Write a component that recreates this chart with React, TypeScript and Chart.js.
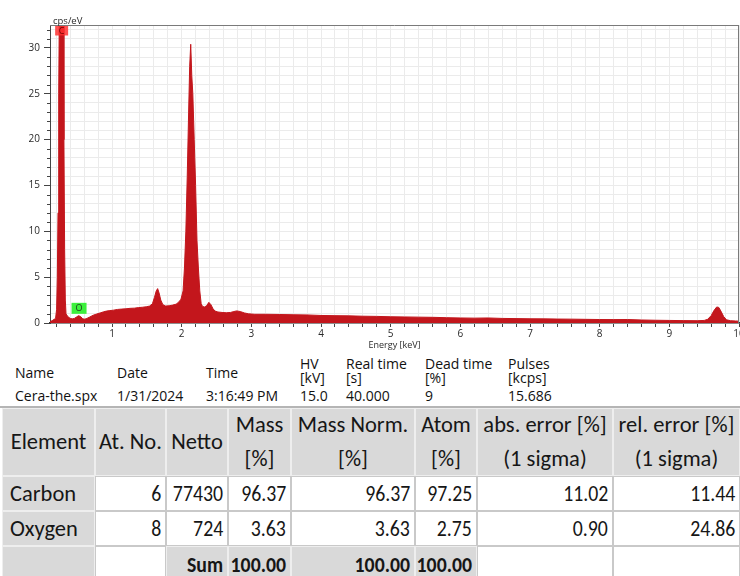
import React, { useEffect, useRef } from 'react';
import { Chart, registerables } from 'chart.js';
Chart.register(...registerables);

// ---------- spectrum data ----------
const energyKeV = [
  0.11, 0.14, 0.17, 0.19, 0.205, 0.215, 0.225, 0.235, 0.245, 0.26,
  0.275, 0.29, 0.30, 0.31, 0.32, 0.33, 0.34, 0.36, 0.38, 0.40,
  0.43, 0.46, 0.49, 0.52, 0.55, 0.58, 0.61, 0.64, 0.68, 0.73,
  0.78, 0.83, 0.88, 0.92, 0.97, 1.02, 1.08, 1.14, 1.20, 1.26,
  1.32, 1.38, 1.44, 1.50, 1.54, 1.58, 1.61, 1.635, 1.655, 1.675,
  1.70, 1.73, 1.77, 1.82, 1.87, 1.92, 1.96, 1.99, 2.02, 2.04,
  2.06, 2.08, 2.10, 2.115, 2.13, 2.145, 2.16, 2.18, 2.20, 2.22,
  2.24, 2.26, 2.28, 2.30, 2.33, 2.36, 2.39, 2.42, 2.45, 2.48,
  2.52, 2.58, 2.64, 2.70, 2.75, 2.79, 2.84, 2.90, 2.96, 3.05,
  3.2, 3.4, 3.6, 3.8, 4.0, 4.2, 4.4, 4.6, 4.8, 5.0,
  5.2, 5.4, 5.6, 5.8, 6.0, 6.2, 6.4, 6.6, 6.8, 7.0,
  7.2, 7.4, 7.6, 7.8, 8.0, 8.2, 8.4, 8.6, 8.8, 9.0,
  9.2, 9.4, 9.5, 9.55, 9.6, 9.64, 9.68, 9.71, 9.74, 9.78,
  9.82, 9.88, 9.95, 10.0,
];
const cpsPerEv = [
  0.15, 0.25, 0.4, 0.5, 1.5, 5, 12, 25, 35, 45,
  48, 42, 33, 20, 8, 2.5, 1.0, 0.75, 0.62, 0.5,
  0.45, 0.5, 0.65, 0.8, 0.7, 0.45, 0.42, 0.5, 0.65, 0.85,
  0.98, 1.1, 1.22, 1.3, 1.35, 1.4, 1.48, 1.52, 1.55, 1.6,
  1.62, 1.68, 1.72, 1.78, 1.85, 2.1, 2.8, 3.5, 3.75, 3.3,
  2.5, 2.0, 1.85, 1.88, 1.95, 2.05, 2.3, 2.6, 3.5, 6,
  10, 16, 23, 28, 30.4, 27, 25, 20, 15, 9,
  6, 3.5, 2.1, 1.8, 1.75, 1.9, 2.25, 2.0, 1.55, 1.3,
  1.2, 1.15, 1.12, 1.15, 1.25, 1.32, 1.25, 1.1, 1.0, 0.95,
  0.95, 0.93, 0.9, 0.88, 0.82, 0.8, 0.78, 0.74, 0.72, 0.68,
  0.66, 0.64, 0.62, 0.58, 0.55, 0.53, 0.55, 0.5, 0.48, 0.46,
  0.45, 0.43, 0.42, 0.4, 0.38, 0.37, 0.38, 0.33, 0.3, 0.28,
  0.26, 0.25, 0.28, 0.4, 0.8, 1.35, 1.75, 1.7, 1.3, 0.7,
  0.35, 0.25, 0.22, 0.2,
];

const xMin = 0.11;
const xMax = 10;
const yMax = 32.5;
const xLabelValues = [1, 2, 3, 4, 5, 6, 7, 8, 9, 10];
const yLabelValues = [0, 5, 10, 15, 20, 25, 30];
const xTitle = 'Energy [keV]';
const yTitle = 'cps/eV';

const markerLabels = ['C', 'O'];
const markerEnergies = [0.277, 0.527];
const markerColors = ['rgba(255,45,45,0.82)', '#3cf03c'];

// ---------- metadata ----------
const metaHeaders = [['Name'], ['Date'], ['Time'], ['HV', '[kV]'], ['Real time', '[s]'], ['Dead time', '[%]'], ['Pulses', '[kcps]']];
const metaValues = ['Cera-the.spx', '1/31/2024', '3:16:49 PM', '15.0', '40.000', '9', '15.686'];

// ---------- result table ----------
const tableHeaders = [['Element'], ['At. No.'], ['Netto'], ['Mass', '[%]'], ['Mass Norm.', '[%]'], ['Atom', '[%]'], ['abs. error [%]', '(1 sigma)'], ['rel. error [%]', '(1 sigma)']];
const elements = ['Carbon', 'Oxygen'];
const atomicNumbers = ['6', '8'];
const nettoCounts = ['77430', '724'];
const massPct = ['96.37', '3.63'];
const massNormPct = ['96.37', '3.63'];
const atomPct = ['97.25', '2.75'];
const absErrPct = ['11.02', '0.90'];
const relErrPct = ['11.44', '24.86'];
const sumRow = ['', '', 'Sum', '100.00', '100.00', '100.00', '', ''];

// ---------- layout (positions only) ----------
const RED = '#c3161c';
const metaX = [15, 117, 206, 300, 346, 425, 508];
const colEdges = [2, 95, 166, 228, 291, 415, 477, 613, 740];
const rowEdges = [408, 476, 511, 546, 582];
const GRAY = '#d9d9d9';

export default function App() {
  const canvasRef = useRef<HTMLCanvasElement | null>(null);

  useEffect(() => {
    const canvas = canvasRef.current;
    if (!canvas) return;
    const xTicks: number[] = [];
    for (let i = 1; i <= 50; i++) xTicks.push(Math.round(i * 2) / 10);
    const yTicks: number[] = [];
    for (let i = 0; i <= 32; i++) yTicks.push(i);

    const extras = {
      id: 'extras',
      afterDatasetsDraw(chart: any) {
        const { ctx, chartArea, scales } = chart;
        const xs = scales.x;
        const ys = scales.y;
        ctx.save();
        markerLabels.forEach((lab, i) => {
          const cx = xs.getPixelForValue(markerEnergies[i]);
          let w = 13, h = 9.5, top;
          if (i === 0) {
            top = chartArea.top + 1;
          } else {
            w = 15; h = 11;
            top = ys.getPixelForValue(1.6) - h / 2;
          }
          ctx.fillStyle = markerColors[i];
          ctx.fillRect(cx - w / 2, top, w, h);
          ctx.fillStyle = i === 0 ? '#6a0000' : '#1d3b1d';
          ctx.font = '9px "Open Sans"';
          ctx.textAlign = 'center';
          ctx.textBaseline = 'middle';
          ctx.fillText(lab, cx, top + h / 2 + 0.5);
        });
        ctx.restore();
      },
      afterDraw(chart: any) {
        const { ctx, chartArea, scales } = chart;
        const ys = scales.y;
        ctx.save();
        ctx.strokeStyle = '#7a7a7a';
        ctx.lineWidth = 1;
        ctx.beginPath();
        ctx.moveTo(chartArea.left, chartArea.top + 0.5);
        ctx.lineTo(chartArea.right, chartArea.top + 0.5);
        ctx.moveTo(chartArea.right - 0.5, chartArea.top);
        ctx.lineTo(chartArea.right - 0.5, chartArea.bottom);
        ctx.stroke();
        ctx.strokeStyle = '#444';
        ctx.beginPath();
        yTicks.forEach((v) => {
          if (v % 5 === 0) return;
          const py = Math.round(ys.getPixelForValue(v)) + 0.5;
          ctx.moveTo(chartArea.left - 3, py);
          ctx.lineTo(chartArea.left, py);
        });
        ctx.stroke();
        ctx.restore();
      },
    };

    const chart = new Chart(canvas, {
      type: 'line',
      data: {
        datasets: [
          {
            data: energyKeV.map((e, i) => ({ x: e, y: cpsPerEv[i] })),
            fill: 'origin',
            backgroundColor: RED,
            borderColor: RED,
            borderWidth: 1,
            pointRadius: 0,
            tension: 0,
          },
        ],
      },
      options: {
        responsive: false,
        maintainAspectRatio: false,
        animation: false,
        layout: { padding: { top: 25, left: 0, right: 1, bottom: 0 } },
        plugins: { legend: { display: false }, tooltip: { enabled: false } },
        scales: {
          x: {
            type: 'linear',
            min: xMin,
            max: xMax,
            afterBuildTicks: (s: any) => {
              s.ticks = xTicks.map((v) => ({ value: v }));
            },
            afterFit: (s: any) => {
              s.height = 29;
              s.paddingLeft = 0;
              s.paddingRight = 0;
            },
            ticks: {
              autoSkip: false,
              maxRotation: 0,
              minRotation: 0,
              padding: 1,
              color: '#2a2a2a',
              font: { family: 'Open Sans', size: 10 },
              callback: (v: any) => {
                const r = Math.round(Number(v) * 100) / 100;
                return xLabelValues.includes(r) ? String(r) : '';
              },
            },
            grid: { color: '#ebebeb', lineWidth: 1, tickLength: 4, tickColor: '#444' },
            border: { color: '#333', width: 1.5 },
            title: {
              display: true,
              text: xTitle,
              color: '#2a2a2a',
              font: { family: 'Open Sans', size: 9 },
              padding: { top: 0, bottom: 1.5 },
            },
          },
          y: {
            min: 0,
            max: yMax,
            afterBuildTicks: (s: any) => {
              s.ticks = yTicks.map((v) => ({ value: v }));
            },
            afterFit: (s: any) => {
              s.width = 50;
              s.paddingTop = 0;
              s.paddingBottom = 0;
            },
            ticks: {
              autoSkip: false,
              padding: 4,
              color: '#2a2a2a',
              font: { family: 'Open Sans', size: 10 },
              callback: (v: any) => (yLabelValues.includes(Number(v)) ? String(v) : ''),
            },
            grid: {
              color: '#ebebeb',
              lineWidth: 1,
              tickLength: 6,
              tickColor: (c: any) => (c.tick && c.tick.value % 5 === 0 ? '#444' : 'rgba(0,0,0,0)'),
            },
            border: { color: '#444', width: 1 },
          },
        },
      },
      plugins: [extras],
    } as any);
    return () => chart.destroy();
  }, []);

  const metaFont: React.CSSProperties = { fontFamily: '"Open Sans", sans-serif', fontSize: 14, color: '#111', position: 'absolute', lineHeight: '14px', whiteSpace: 'nowrap' };
  const tableFont = 'Carlito, Calibri, Lato, sans-serif';

  const bodyRows = elements.map((el, i) => [el, atomicNumbers[i], nettoCounts[i], massPct[i], massNormPct[i], atomPct[i], absErrPct[i], relErrPct[i]]);

  const cells: React.ReactNode[] = [];
  tableHeaders.forEach((lines, c) => {
    const x0 = colEdges[c], x1 = colEdges[c + 1];
    cells.push(
      <div key={'h' + c} style={{ position: 'absolute', left: x0, top: rowEdges[0], width: x1 - x0, height: rowEdges[1] - rowEdges[0], boxSizing: 'border-box', border: '1px solid #eeeeee', background: GRAY, display: 'flex', flexDirection: 'column', justifyContent: 'center', alignItems: 'center', fontFamily: tableFont, fontSize: 22.5, lineHeight: '34px', color: '#161616', whiteSpace: 'nowrap' }}>
        {lines.map((t, k) => (<div key={k}>{t}</div>))}
      </div>
    );
  });
  const allRows = [...bodyRows, sumRow];
  allRows.forEach((row, r) => {
    const y0 = rowEdges[r + 1], y1 = rowEdges[r + 2];
    const isSum = r === allRows.length - 1;
    row.forEach((txt, c) => {
      const x0 = colEdges[c], x1 = colEdges[c + 1];
      const gray = c === 0 || (isSum && c >= 2 && c <= 5);
      cells.push(
        <div key={'r' + r + 'c' + c} style={{ position: 'absolute', left: x0, top: y0, width: x1 - x0, height: y1 - y0, boxSizing: 'border-box', border: gray ? '1px solid #eeeeee' : '1px solid #c9c9c9', background: gray ? GRAY : '#ffffff', display: 'flex', alignItems: 'center', justifyContent: c === 0 ? 'flex-start' : 'flex-end', padding: c === 0 ? '0 0 0 7px' : '0 4px 0 0', fontFamily: tableFont, fontSize: 22.5, color: '#161616', fontWeight: isSum ? 700 : 400, whiteSpace: 'nowrap' }}>
          <span style={{ display: 'inline-block', transform: c === 0 ? 'none' : 'scaleX(0.88)', transformOrigin: 'right center' }}>{txt}</span>
        </div>
      );
    });
  });

  return (
    <div style={{ position: 'absolute', left: 0, top: 0, width: 740, height: 576, background: '#fff', overflow: 'hidden' }}>
      <canvas ref={canvasRef} width={740} height={352} style={{ position: 'absolute', left: 0, top: 0, width: 740, height: 352 }} />
      <div style={{ position: 'absolute', left: 53, top: 14, fontFamily: '"Open Sans", sans-serif', fontSize: 9.5, color: '#2a2a2a', lineHeight: '13px' }}>{yTitle}</div>
      {metaHeaders.map((lines, i) =>
        lines.length === 1 ? (
          <div key={'mh' + i} style={{ ...metaFont, left: metaX[i], top: 373 - 7 }}>{lines[0]}</div>
        ) : (
          <React.Fragment key={'mh' + i}>
            <div style={{ ...metaFont, left: metaX[i], top: 364 - 7 }}>{lines[0]}</div>
            <div style={{ ...metaFont, left: metaX[i], top: 378 - 7 }}>{lines[1]}</div>
          </React.Fragment>
        )
      )}
      {metaValues.map((v, i) => (
        <div key={'mv' + i} style={{ ...metaFont, left: metaX[i], top: 396 - 7 }}>{v}</div>
      ))}
      <div style={{ position: 'absolute', left: 0, top: 406, width: 740, height: 2, background: '#b5b5b5' }} />
      {cells}
    </div>
  );
}
